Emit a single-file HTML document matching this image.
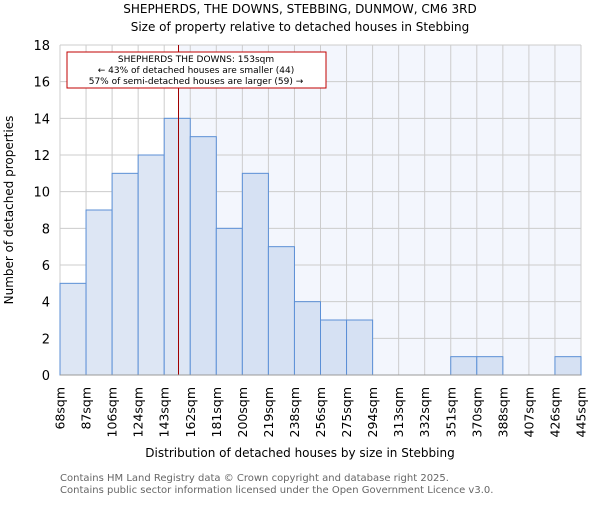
<!DOCTYPE html><html><head><style>body{margin:0;background:#fff}svg text{font-family:"DejaVu Sans","Liberation Sans",sans-serif}</style></head><body>
<svg width="600" height="500" xmlns="http://www.w3.org/2000/svg">
<text x="300" y="13" font-size="12" text-anchor="middle">SHEPHERDS, THE DOWNS, STEBBING, DUNMOW, CM6 3RD</text>
<text x="300" y="31" font-size="12" text-anchor="middle">Size of property relative to detached houses in Stebbing</text>
<rect x="178.5" y="45" width="402.5" height="330" fill="#f3f6fd"/>
<g id="g"></g>
<g id="b"></g>
<line x1="178.5" y1="45" x2="178.5" y2="375" stroke="#a00000" stroke-width="1"/>
<line x1="60" y1="375" x2="581" y2="375" stroke="#999"/>
<rect x="67" y="52" width="259" height="36" fill="#fff" stroke="#c00000"/>
<text font-size="9" text-anchor="middle"><tspan x="196" y="62">SHEPHERDS THE DOWNS: 153sqm</tspan><tspan x="196" y="73">← 43% of detached houses are smaller (44)</tspan><tspan x="196" y="84">57% of semi-detached houses are larger (59) →</tspan></text>
<text x="300" y="457" font-size="12" text-anchor="middle">Distribution of detached houses by size in Stebbing</text>
<text transform="translate(13,210) rotate(-90)" font-size="12" text-anchor="middle">Number of detached properties</text>
<text x="60" y="481" font-size="10" fill="#666">Contains HM Land Registry data © Crown copyright and database right 2025.</text>
<text x="60" y="493" font-size="10" fill="#666">Contains public sector information licensed under the Open Government Licence v3.0.</text>
<g id="t"></g>
</svg>
<script>
var ns="http://www.w3.org/2000/svg",x0=60,w=26.05,y0=375,u=330/18;
function el(p,n,a,t){var e=document.createElementNS(ns,n);for(var k in a)e.setAttribute(k,a[k]);if(t!=null)e.textContent=t;document.getElementById(p).appendChild(e);}
for(var i=0;i<=20;i++)el("g","line",{x1:x0+i*w,y1:45,x2:x0+i*w,y2:375,stroke:"#ccc"});
for(var j=0;j<=18;j+=2){el("g","line",{x1:60,y1:y0-j*u,x2:581,y2:y0-j*u,stroke:"#ccc"});el("t","text",{x:50,y:y0-j*u+5,"font-size":13,"text-anchor":"end"},j);}
var v=[5,9,11,12,14,13,8,11,7,4,3,3,0,0,0,1,1,0,0,1];
v.forEach(function(h,i){if(h)el("b","rect",{x:x0+i*w,y:y0-h*u,width:w,height:h*u,fill:i<5?"#dde6f4":"#d6e1f3",stroke:"#5b8fd6","stroke-width":1});});
var L=["68","87","106","124","143","162","181","200","219","238","256","275","294","313","332","351","370","388","407","426","445"];
L.forEach(function(s,i){var x=x0+i*w+4.5;el("t","text",{transform:"translate("+x+",387) rotate(-90)","font-size":12.5,"text-anchor":"end"},s+"sqm");});
</script>
</body></html>
